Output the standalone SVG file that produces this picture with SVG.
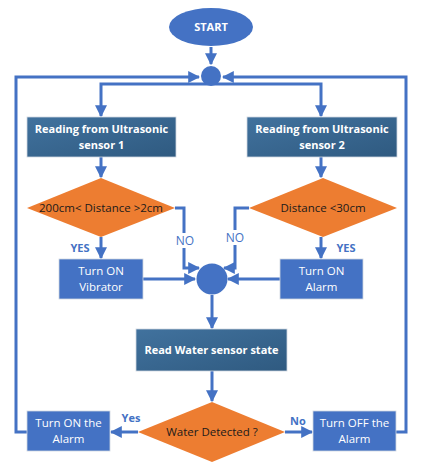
<svg xmlns="http://www.w3.org/2000/svg" width="423" height="476" viewBox="0 0 423 476">
<defs>
<linearGradient id="dk" x1="0" y1="0" x2="1" y2="1">
<stop offset="0" stop-color="#41729E"/>
<stop offset="1" stop-color="#2F5A80"/>
</linearGradient>
<marker id="ah" viewBox="0 0 10 10" refX="9" refY="5" markerWidth="4" markerHeight="4" markerUnits="strokeWidth" orient="auto">
<path d="M0,0 L10,5 L0,10 Z" fill="#4472C4"/>
</marker>
<style>
.ln{fill:none;stroke:#4472C4;stroke-width:3;}
.ar{marker-end:url(#ah);}
.dk{fill:url(#dk);stroke:#D0D7E0;stroke-width:0.8;}
.bl{fill:#4472C4;stroke:#D0D7E0;stroke-width:0.8;}
.dm{fill:#ED7D31;}
.j{fill:#4472C4;}
.tw{font-family:"Open Sans","Liberation Sans",sans-serif;font-size:11.5px;fill:#fff;text-anchor:middle;}
.twb{font-family:"Open Sans","Liberation Sans",sans-serif;font-size:11px;font-weight:bold;fill:#fff;text-anchor:middle;}
.tk{font-family:"Open Sans","Liberation Sans",sans-serif;font-size:11.5px;fill:#1a1a1a;text-anchor:middle;}
.lb{font-family:"Open Sans","Liberation Sans",sans-serif;font-size:12px;fill:#4472C4;text-anchor:middle;}
.lbb{font-family:"Open Sans","Liberation Sans",sans-serif;font-size:11px;font-weight:bold;fill:#4472C4;text-anchor:middle;}
</style>
</defs>
<g id="connectors">
<path class="ln ar" d="M211,47 V64"/>
<path class="ln ar" d="M27,432 H16 V77 H199"/>
<path class="ln ar" d="M396,432 H406 V77 H223"/>
<path class="ln ar" d="M211,84 H101 V116"/>
<path class="ln ar" d="M211,84 H321 V116"/>
<path class="ln ar" d="M101,157 V177"/>
<path class="ln ar" d="M321,157 V177"/>
<path class="ln ar" d="M101,237 V258"/>
<path class="ln ar" d="M321,237 V258"/>
<path class="ln ar" d="M175,208 H184 V268 H199"/>
<path class="ln ar" d="M249,208 H235 V268 H224"/>
<path class="ln ar" d="M143,279 H195"/>
<path class="ln ar" d="M280,279 H228"/>
<path class="ln ar" d="M212,295 V328"/>
<path class="ln ar" d="M212,371 V401"/>
<path class="ln ar" d="M138,432 H111"/>
<path class="ln ar" d="M285,432 H312"/>
<rect x="175" y="233" width="20" height="15" fill="#fff"/>
<rect x="225" y="230" width="20" height="15" fill="#fff"/>
<text class="lb" x="185" y="245">NO</text>
<text class="lb" x="235" y="242">NO</text>
<text class="lbb" x="80" y="252">YES</text>
<text class="lbb" x="346" y="252">YES</text>
<text class="lbb" x="131" y="422">Yes</text>
<text class="lbb" x="298" y="425">No</text>
</g>
<g id="start">
<ellipse cx="211" cy="27" rx="42" ry="19" fill="#4472C4"/>
<text class="twb" x="211" y="31">START</text>
</g>
<g id="junction1"><circle class="j" cx="211" cy="76" r="10"/></g>
<g id="sensor1">
<rect class="dk" x="27" y="117" width="149" height="40"/>
<text class="twb" x="101.5" y="133">Reading from Ultrasonic</text>
<text class="twb" x="101.5" y="149">sensor 1</text>
</g>
<g id="sensor2">
<rect class="dk" x="247" y="117" width="150" height="40"/>
<text class="twb" x="322" y="133">Reading from Ultrasonic</text>
<text class="twb" x="322" y="149">sensor 2</text>
</g>
<g id="decision1">
<polygon class="dm" points="101,178 175,208 101,237 27,208"/>
<text class="tk" x="101" y="212">200cm&lt; Distance &gt;2cm</text>
</g>
<g id="decision2">
<polygon class="dm" points="323,178 397,208 323,237 249,208"/>
<text class="tk" x="323" y="212">Distance &lt;30cm</text>
</g>
<g id="vibrator">
<rect class="bl" x="59" y="259" width="84" height="40"/>
<text class="tw" x="101" y="275">Turn ON</text>
<text class="tw" x="101" y="291">Vibrator</text>
</g>
<g id="alarm1">
<rect class="bl" x="280" y="259" width="83" height="40"/>
<text class="tw" x="321.5" y="275">Turn ON</text>
<text class="tw" x="321.5" y="291">Alarm</text>
</g>
<g id="junction2"><circle class="j" cx="212" cy="279" r="15.5"/></g>
<g id="water">
<rect class="dk" x="136" y="329" width="151" height="42"/>
<text class="twb" x="211.5" y="354">Read Water sensor state</text>
</g>
<g id="decision3">
<polygon class="dm" points="212,402 285,432 212,462 138,432"/>
<text class="tk" x="212" y="436">Water Detected ?</text>
</g>
<g id="alarmOn">
<rect class="bl" x="27" y="411" width="83" height="40"/>
<text class="tw" x="68.5" y="427">Turn ON the</text>
<text class="tw" x="68.5" y="443">Alarm</text>
</g>
<g id="alarmOff">
<rect class="bl" x="313" y="411" width="83" height="40"/>
<text class="tw" x="354.5" y="427">Turn OFF the</text>
<text class="tw" x="354.5" y="443">Alarm</text>
</g>
</svg>
